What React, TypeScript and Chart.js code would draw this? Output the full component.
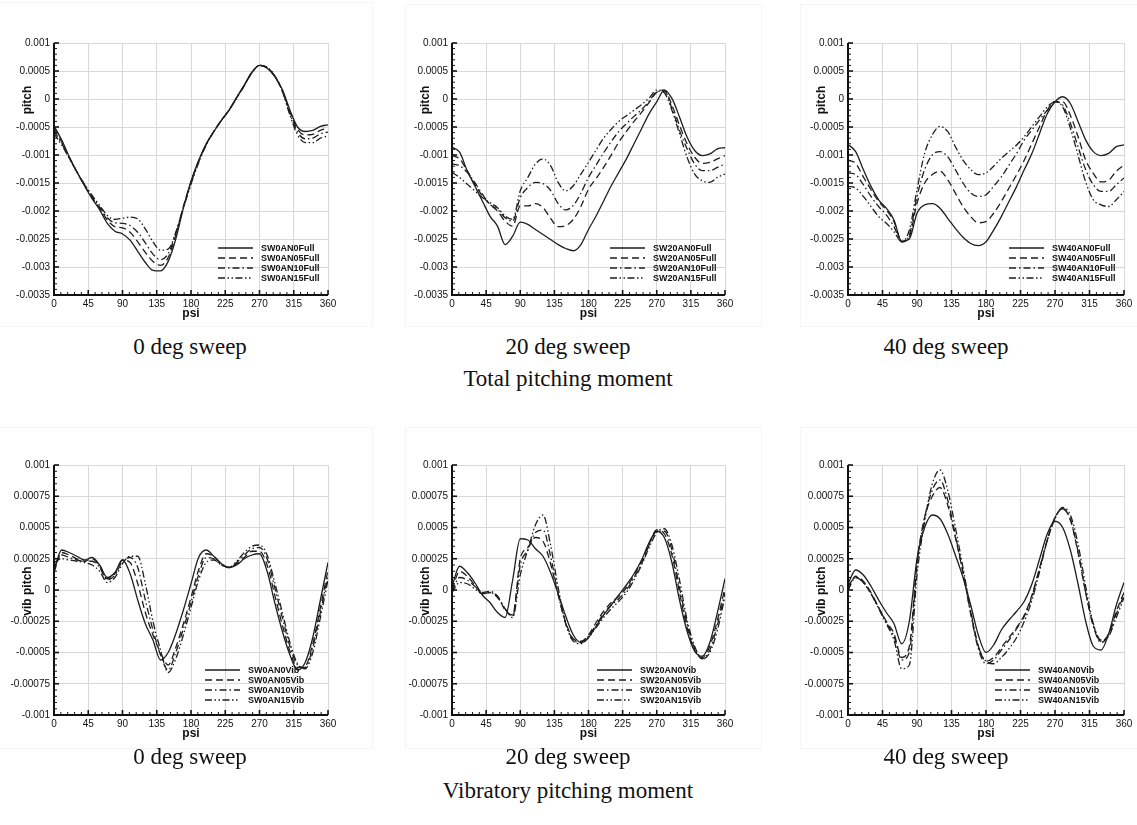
import React, { useEffect, useRef } from "react";
import { Chart, registerables } from "chart.js";

Chart.register(...registerables);

// ---------------- data ----------------
const PSI = [0, 10, 20, 30, 40, 50, 60, 70, 80, 90, 100, 110, 120, 130, 140, 150, 160, 170, 180, 190, 200, 210, 220, 230, 240, 250, 260, 270, 280, 290, 300, 310, 320, 330, 340, 350, 360];
const X_TICKS = [0, 45, 90, 135, 180, 225, 270, 315, 360];
const TOTAL_Y_TICKS = [0.001, 0.0005, 0, -0.0005, -0.001, -0.0015, -0.002, -0.0025, -0.003, -0.0035];
const VIB_Y_TICKS = [0.001, 0.00075, 0.0005, 0.00025, 0, -0.00025, -0.0005, -0.00075, -0.001];

const T0_NAMES = ["SW0AN0Full", "SW0AN05Full", "SW0AN10Full", "SW0AN15Full"];
const T20_NAMES = ["SW20AN0Full", "SW20AN05Full", "SW20AN10Full", "SW20AN15Full"];
const T40_NAMES = ["SW40AN0Full", "SW40AN05Full", "SW40AN10Full", "SW40AN15Full"];
const V0_NAMES = ["SW0AN0Vib", "SW0AN05Vib", "SW0AN10Vib", "SW0AN15Vib"];
const V20_NAMES = ["SW20AN0Vib", "SW20AN05Vib", "SW20AN10Vib", "SW20AN15Vib"];
const V40_NAMES = ["SW40AN0Vib", "SW40AN05Vib", "SW40AN10Vib", "SW40AN15Vib"];

// Total pitching moment, 0 deg sweep
const T0_AN0 = [-0.00048, -0.00073, -0.00103, -0.0013, -0.00155, -0.00178, -0.00198, -0.00222, -0.00236, -0.00241, -0.00252, -0.00272, -0.00292, -0.00306, -0.00307, -0.0029, -0.0025, -0.00195, -0.00147, -0.0011, -0.0008, -0.00058, -0.00038, -0.0002, 0.00003, 0.00025, 0.00048, 0.0006, 0.00055, 0.0004, 0.00017, -0.0002, -0.0005, -0.00058, -0.00056, -0.00049, -0.00046];
const T0_AN05 = [-0.00052, -0.00076, -0.00104, -0.0013, -0.00154, -0.00176, -0.00195, -0.00216, -0.00228, -0.0023, -0.00238, -0.00255, -0.00274, -0.0029, -0.00297, -0.00283, -0.00243, -0.00192, -0.00148, -0.00111, -0.00081, -0.00058, -0.00038, -0.0002, 0.00002, 0.00024, 0.00047, 0.0006, 0.00056, 0.00041, 0.00015, -0.00023, -0.00054, -0.00064, -0.00063, -0.00056, -0.00052];
const T0_AN10 = [-0.00057, -0.00079, -0.00105, -0.0013, -0.00153, -0.00174, -0.00193, -0.00212, -0.00221, -0.00222, -0.00226, -0.00238, -0.00257, -0.00277, -0.00287, -0.00276, -0.0024, -0.00193, -0.0015, -0.00112, -0.00081, -0.00058, -0.00038, -0.0002, 0.00002, 0.00024, 0.00047, 0.0006, 0.00056, 0.00041, 0.00014, -0.00026, -0.00059, -0.00071, -0.0007, -0.00062, -0.00059];
const T0_AN15 = [-0.00062, -0.00082, -0.00106, -0.0013, -0.00152, -0.00172, -0.0019, -0.00208, -0.00215, -0.00213, -0.00211, -0.00214, -0.00232, -0.00255, -0.0027, -0.00268, -0.00238, -0.00195, -0.00152, -0.00114, -0.00082, -0.00058, -0.00038, -0.0002, 0.00002, 0.00024, 0.00047, 0.0006, 0.00057, 0.00042, 0.00014, -0.00029, -0.00064, -0.00078, -0.00078, -0.0007, -0.00066];

// Total pitching moment, 20 deg sweep
const T20_AN0 = [-0.00086, -0.00095, -0.00128, -0.00155, -0.00182, -0.00209, -0.00227, -0.0026, -0.00245, -0.0022, -0.00224, -0.00233, -0.00242, -0.00251, -0.0026, -0.00267, -0.00271, -0.0026, -0.00233, -0.00209, -0.00182, -0.00155, -0.00131, -0.00107, -0.0008, -0.00053, -0.00026, -0.00005, 0.00016, 0.00001, -0.00032, -0.00068, -0.00092, -0.00101, -0.00098, -0.00089, -0.00087];
const T20_AN05 = [-0.00101, -0.00107, -0.00128, -0.00152, -0.00173, -0.00188, -0.002, -0.00218, -0.00227, -0.00191, -0.00191, -0.00187, -0.00194, -0.00213, -0.00228, -0.00226, -0.00215, -0.00192, -0.00161, -0.00142, -0.00122, -0.001, -0.00077, -0.00058, -0.0004, -0.00024, -0.00006, 0.00012, 0.00016, -0.00011, -0.00047, -0.0008, -0.00104, -0.00115, -0.00113, -0.00107, -0.00101];
const T20_AN10 = [-0.00116, -0.00119, -0.00131, -0.00149, -0.0017, -0.00188, -0.00197, -0.00212, -0.00218, -0.00176, -0.00158, -0.00149, -0.00151, -0.00163, -0.00187, -0.00198, -0.0019, -0.00168, -0.0014, -0.00118, -0.00096, -0.00076, -0.00058, -0.00044, -0.00031, -0.00019, -0.00004, 0.00013, 0.00014, -0.00017, -0.00056, -0.00089, -0.00116, -0.00128, -0.00128, -0.00122, -0.00116];
const T20_AN15 = [-0.00131, -0.0014, -0.00152, -0.00164, -0.00176, -0.00185, -0.00194, -0.00209, -0.00215, -0.00164, -0.0014, -0.00116, -0.00107, -0.00119, -0.00149, -0.00164, -0.00155, -0.00134, -0.00113, -0.00091, -0.0007, -0.00054, -0.0004, -0.0003, -0.0002, -0.0001, 0.00002, 0.00016, 0.00011, -0.0002, -0.00062, -0.00104, -0.00134, -0.00146, -0.00149, -0.0014, -0.00134];

// Total pitching moment, 40 deg sweep
const T40_AN0 = [-0.00081, -0.00094, -0.00126, -0.00156, -0.0018, -0.00195, -0.00216, -0.00254, -0.0025, -0.00204, -0.00189, -0.00187, -0.00195, -0.00213, -0.00231, -0.00247, -0.00258, -0.00262, -0.00255, -0.00234, -0.0021, -0.00183, -0.00156, -0.00126, -0.00097, -0.00061, -0.00026, -0.00005, 0.00004, -0.00008, -0.0004, -0.00073, -0.00094, -0.00101, -0.00097, -0.00085, -0.00082];
const T40_AN05 = [-0.00109, -0.00115, -0.00139, -0.00162, -0.00183, -0.00198, -0.00219, -0.00255, -0.00246, -0.00186, -0.0015, -0.00135, -0.00129, -0.00144, -0.00168, -0.00192, -0.0021, -0.00221, -0.00219, -0.00204, -0.00183, -0.00159, -0.00135, -0.00109, -0.00079, -0.00049, -0.0002, -0.00005, -0.00005, -0.00029, -0.00067, -0.00109, -0.00133, -0.00148, -0.00145, -0.00129, -0.00118];
const T40_AN10 = [-0.00132, -0.00135, -0.00153, -0.00174, -0.00192, -0.00207, -0.00228, -0.00255, -0.00243, -0.00174, -0.00126, -0.001, -0.00094, -0.00103, -0.00126, -0.0015, -0.00168, -0.00174, -0.00171, -0.00156, -0.00139, -0.00118, -0.00097, -0.00073, -0.00055, -0.00037, -0.0002, -0.00005, -0.00011, -0.00043, -0.00085, -0.00126, -0.00153, -0.00165, -0.00165, -0.00153, -0.00141];
const T40_AN15 = [-0.00156, -0.00159, -0.00174, -0.00192, -0.0021, -0.00222, -0.00237, -0.00255, -0.00234, -0.00162, -0.00097, -0.00064, -0.00049, -0.00058, -0.00085, -0.00109, -0.00126, -0.00135, -0.00132, -0.0012, -0.00106, -0.00094, -0.00082, -0.00067, -0.00049, -0.00031, -0.00014, -0.00005, -0.00014, -0.00052, -0.001, -0.00148, -0.0018, -0.00189, -0.00192, -0.0018, -0.00165];

// Vibratory pitching moment, 0 deg sweep
const V0_AN0 = [0.00015, 0.00032, 0.0003, 0.00027, 0.00024, 0.00026, 0.0002, 0.0001, 0.00014, 0.00024, 0.00013, -0.00008, -0.00027, -0.0004, -0.00056, -0.0005, -0.00035, -0.00016, 0.00005, 0.00026, 0.00032, 0.00027, 0.00021, 0.00018, 0.0002, 0.00025, 0.00028, 0.00029, 0.00015, -0.0001, -0.00033, -0.00052, -0.00064, -0.00058, -0.00038, -0.00008, 0.00022];
const V0_AN05 = [0.00014, 0.0003, 0.00028, 0.00025, 0.00023, 0.00025, 0.00019, 0.00009, 0.00013, 0.00024, 0.00022, 0.00005, -0.00018, -0.00036, -0.0005, -0.0006, -0.00046, -0.00027, -0.00006, 0.00016, 0.00029, 0.00027, 0.00021, 0.00018, 0.00021, 0.00026, 0.00031, 0.00031, 0.0002, -0.00004, -0.00028, -0.00049, -0.00062, -0.00061, -0.00043, -0.00014, 0.00016];
const V0_AN10 = [0.00018, 0.00028, 0.00026, 0.00024, 0.00023, 0.00023, 0.00018, 0.00008, 0.00012, 0.00023, 0.00026, 0.00018, -0.00008, -0.00032, -0.00052, -0.00064, -0.0005, -0.00031, -0.0001, 0.00012, 0.00026, 0.00025, 0.0002, 0.00018, 0.00022, 0.00028, 0.00033, 0.00034, 0.00025, 0.00002, -0.00022, -0.00045, -0.0006, -0.00062, -0.00046, -0.00018, 0.00012];
const V0_AN15 = [0.00022, 0.00025, 0.00024, 0.00023, 0.00022, 0.0002, 0.00015, 0.00006, 0.0001, 0.00021, 0.00027, 0.00027, 0.00005, -0.00025, -0.00048, -0.00066, -0.00055, -0.00036, -0.00014, 0.00008, 0.00022, 0.00024, 0.0002, 0.00018, 0.00023, 0.0003, 0.00035, 0.00036, 0.00028, 0.00006, -0.00018, -0.00042, -0.00059, -0.00063, -0.0005, -0.00022, 0.00008];

// Vibratory pitching moment, 20 deg sweep
const V20_AN0 = [0.00003, 0.00019, 0.00014, 0.00006, -0.00004, -0.0001, -0.00018, -0.00022, 0.00008, 0.00041, 0.0004, 0.00033, 0.00027, 0.00014, -0.00003, -0.00021, -0.00036, -0.00042, -0.00038, -0.00029, -0.0002, -0.00012, -0.00004, 0.00004, 0.00013, 0.00024, 0.00038, 0.00047, 0.00042, 0.00022, -0.00008, -0.00033, -0.00049, -0.00053, -0.00042, -0.00018, 0.00009];
const V20_AN05 = [0.0, 0.00015, 0.00011, 0.00004, -0.00003, -0.00002, -0.00005, -0.00016, -0.0002, 0.00025, 0.00034, 0.00042, 0.00039, 0.00021, -0.00004, -0.00026, -0.00039, -0.00041, -0.00036, -0.00026, -0.00017, -0.0001, -0.00005, 0.00002, 0.00012, 0.00023, 0.00037, 0.00048, 0.00045, 0.00028, -0.00002, -0.0003, -0.00048, -0.00054, -0.00045, -0.00024, 0.00002];
const V20_AN10 = [-0.00001, 0.0001, 0.00008, 0.00003, -0.00002, -0.00001, -0.00005, -0.00015, -0.00021, 0.0002, 0.00032, 0.00046, 0.00048, 0.00027, -0.00003, -0.00027, -0.0004, -0.00042, -0.00037, -0.00028, -0.00019, -0.00012, -0.00007, 0.0, 0.0001, 0.00021, 0.00036, 0.00047, 0.00047, 0.00032, 0.00002, -0.00027, -0.00047, -0.00055, -0.00048, -0.00028, -0.00002];
const V20_AN15 = [-0.00002, 0.00006, 0.00005, 0.00001, -0.00003, -0.00002, -0.00006, -0.00015, -0.00022, 0.00012, 0.00032, 0.00052, 0.0006, 0.00036, 0.00002, -0.00027, -0.00041, -0.00043, -0.00038, -0.0003, -0.00022, -0.00015, -0.00009, -0.00002, 0.00008, 0.0002, 0.00034, 0.00046, 0.00049, 0.00036, 0.00008, -0.00024, -0.00045, -0.00055, -0.0005, -0.00032, -0.00005];

// Vibratory pitching moment, 40 deg sweep
const V40_AN0 = [0.00005, 0.00016, 0.00012, 0.00003, -0.00008, -0.00018, -0.00027, -0.00043, -0.00025, 0.00025, 0.0005, 0.0006, 0.00057, 0.00045, 0.00028, 0.0001, -0.00012, -0.00036, -0.0005, -0.00044, -0.00032, -0.00024, -0.00017, -0.00009, 0.00005, 0.00025, 0.00045, 0.00055, 0.0005, 0.00032, 0.00005, -0.00025, -0.00045, -0.00048, -0.00035, -0.00012, 0.00006];
const V40_AN05 = [0.0, 0.00011, 0.00007, -0.00002, -0.00014, -0.00025, -0.00035, -0.00054, -0.00045, 0.00022, 0.00058, 0.00075, 0.00082, 0.00068, 0.00042, 0.00014, -0.00018, -0.00045, -0.00057, -0.00054, -0.00046, -0.00038, -0.0003, -0.0002, -0.00004, 0.00018, 0.0004, 0.00058, 0.00065, 0.00056, 0.0003, -0.00002, -0.00028, -0.00041, -0.00035, -0.00017, -0.00002];
const V40_AN10 = [0.0, 0.0001, 0.00006, -0.00003, -0.00014, -0.00026, -0.00037, -0.00056, -0.0005, 0.0002, 0.00058, 0.0008, 0.00088, 0.00072, 0.00044, 0.00014, -0.00019, -0.00047, -0.00059, -0.00056, -0.00048, -0.0004, -0.00031, -0.00021, -0.00005, 0.00017, 0.0004, 0.00058, 0.00065, 0.00057, 0.00031, -0.00002, -0.00029, -0.00042, -0.00036, -0.00019, -0.00004];
const V40_AN15 = [0.00003, 0.0001, 0.00006, -0.00003, -0.00015, -0.00027, -0.0004, -0.00063, -0.0006, 0.00012, 0.00055, 0.00085, 0.00096, 0.0008, 0.0005, 0.00018, -0.00016, -0.00045, -0.00057, -0.00059, -0.00054, -0.00047, -0.00038, -0.00025, -0.00008, 0.00015, 0.0004, 0.00057, 0.00066, 0.0006, 0.00037, 0.00003, -0.00027, -0.0004, -0.00037, -0.00022, -0.00006];

// ---------------- styling / layout ----------------
const LINE_DASHES = [[], [7, 4], [7, 3, 1.5, 3], [7, 2.5, 1.5, 2.5, 1.5, 2.5]];
const LINE_COLOR = "#1e1e1e";
const AY_W = 54;
const AX_H = 32;
const PAD_T = 10;
const PAD_R = 13;
const SANS = '"Liberation Sans", Arial, Helvetica, sans-serif';

const PANELS = [
  { names: T0_NAMES, series: [T0_AN0, T0_AN05, T0_AN10, T0_AN15], yTicks: TOTAL_Y_TICKS, yTitle: "pitch", left: 54, top: 43, w: 274, h: 252, lx: 164, ly: -47 },
  { names: T20_NAMES, series: [T20_AN0, T20_AN05, T20_AN10, T20_AN15], yTicks: TOTAL_Y_TICKS, yTitle: "pitch", left: 452, top: 43, w: 273, h: 252, lx: 158, ly: -47 },
  { names: T40_NAMES, series: [T40_AN0, T40_AN05, T40_AN10, T40_AN15], yTicks: TOTAL_Y_TICKS, yTitle: "pitch", left: 848, top: 43, w: 276, h: 252, lx: 161, ly: -47 },
  { names: V0_NAMES, series: [V0_AN0, V0_AN05, V0_AN10, V0_AN15], yTicks: VIB_Y_TICKS, yTitle: "vib pitch", left: 54, top: 465, w: 274, h: 250, lx: 151, ly: -45 },
  { names: V20_NAMES, series: [V20_AN0, V20_AN05, V20_AN10, V20_AN15], yTicks: VIB_Y_TICKS, yTitle: "vib pitch", left: 452, top: 465, w: 273, h: 250, lx: 145, ly: -45 },
  { names: V40_NAMES, series: [V40_AN0, V40_AN05, V40_AN10, V40_AN15], yTicks: VIB_Y_TICKS, yTitle: "vib pitch", left: 848, top: 465, w: 276, h: 250, lx: 147, ly: -45 },
];

const decorPlugin = {
  id: "decor",
  afterDatasetsDraw(chart: any, _args: any, o: any) {
    const { ctx, chartArea: a } = chart;
    const xs = chart.scales.x;
    const ys = chart.scales.y;
    ctx.save();
    ctx.setLineDash([]);
    ctx.strokeStyle = "#111";
    // x ticks (inside)
    for (let v = 0; v <= 360; v += 9) {
      const major = v % 45 === 0;
      const px = xs.getPixelForValue(v);
      ctx.lineWidth = major ? 1.6 : 1;
      ctx.beginPath();
      ctx.moveTo(px, a.bottom);
      ctx.lineTo(px, a.bottom - (major ? 5 : 3));
      ctx.stroke();
    }
    // y ticks (inside)
    const yt = o.yTicks;
    const step = yt[0] - yt[1];
    for (let i = 0; i < yt.length; i++) {
      const py = ys.getPixelForValue(yt[i]);
      ctx.lineWidth = 1.6;
      ctx.beginPath();
      ctx.moveTo(a.left, py);
      ctx.lineTo(a.left + 5, py);
      ctx.stroke();
      if (i < yt.length - 1) {
        for (let k = 1; k < 5; k++) {
          const pm = ys.getPixelForValue(yt[i] - (step * k) / 5);
          ctx.lineWidth = 1;
          ctx.beginPath();
          ctx.moveTo(a.left, pm);
          ctx.lineTo(a.left + 3, pm);
          ctx.stroke();
        }
      }
    }
    // axis lines
    ctx.lineWidth = 2;
    ctx.beginPath();
    ctx.moveTo(a.left, a.top);
    ctx.lineTo(a.left, a.bottom);
    ctx.lineTo(a.right, a.bottom);
    ctx.stroke();
    // axis titles
    ctx.fillStyle = "#111";
    ctx.font = "bold 12px " + SANS;
    ctx.textAlign = "center";
    ctx.textBaseline = "alphabetic";
    ctx.fillText("psi", (a.left + a.right) / 2, a.bottom + 22);
    ctx.save();
    ctx.translate(a.left - 26, ys.getPixelForValue(0) + 1);
    ctx.rotate(-Math.PI / 2);
    ctx.textBaseline = "middle";
    ctx.fillText(o.yTitle, 0, 0);
    ctx.restore();
    // legend
    chart.data.datasets.forEach((ds: any, i: number) => {
      const y = a.bottom + o.ly + i * 10;
      const x0 = a.left + o.lx;
      ctx.setLineDash(ds.borderDash || []);
      ctx.lineWidth = 1.3;
      ctx.strokeStyle = LINE_COLOR;
      ctx.beginPath();
      ctx.moveTo(x0, y);
      ctx.lineTo(x0 + 35, y);
      ctx.stroke();
      ctx.setLineDash([]);
      ctx.font = "bold 9px " + SANS;
      ctx.textAlign = "left";
      ctx.textBaseline = "middle";
      ctx.fillText(ds.label, x0 + 43, y + 0.5);
    });
    ctx.restore();
  },
};

function Panel({ p }: { p: any }) {
  const ref = useRef<HTMLCanvasElement | null>(null);
  const cw = AY_W + p.w + PAD_R;
  const chH = PAD_T + p.h + AX_H;
  useEffect(() => {
    if (!ref.current) return;
    const datasets = p.series.map((vals: number[], i: number) => ({
      label: p.names[i],
      data: PSI.map((x, j) => ({ x, y: vals[j] })),
      borderColor: LINE_COLOR,
      borderWidth: 1.3,
      borderDash: LINE_DASHES[i],
      pointRadius: 0,
      cubicInterpolationMode: "monotone",
      fill: false,
    }));
    const yTicks = p.yTicks;
    const gridCfg = { color: "#d8d8d8", lineWidth: 1, drawTicks: false };
    const tickFont = { family: SANS, size: 10 };
    const chart = new Chart(ref.current, {
      type: "line",
      data: { datasets },
      plugins: [decorPlugin],
      options: {
        responsive: false,
        animation: false,
        devicePixelRatio: 1,
        layout: { padding: { top: PAD_T, right: PAD_R, left: 0, bottom: 0 } },
        plugins: {
          legend: { display: false },
          tooltip: { enabled: false },
          decor: { yTicks, yTitle: p.yTitle, lx: p.lx, ly: p.ly },
        },
        scales: {
          x: {
            type: "linear",
            min: 0,
            max: 360,
            afterBuildTicks: (s: any) => {
              s.ticks = X_TICKS.map((v) => ({ value: v }));
            },
            afterFit: (s: any) => {
              s.height = AX_H;
            },
            grid: gridCfg,
            border: { display: false },
            ticks: { font: tickFont, color: "#111", padding: 3, maxRotation: 0, autoSkip: false, callback: (v: any) => String(v) },
          },
          y: {
            type: "linear",
            min: yTicks[yTicks.length - 1],
            max: yTicks[0],
            afterBuildTicks: (s: any) => {
              s.ticks = yTicks.map((v: number) => ({ value: v }));
            },
            afterFit: (s: any) => {
              s.width = AY_W;
            },
            grid: gridCfg,
            border: { display: false },
            ticks: { font: tickFont, color: "#111", padding: 4, autoSkip: false, callback: (v: any) => String(v) },
          },
        },
      } as any,
    } as any);
    return () => chart.destroy();
  }, []);
  return (
    <canvas
      ref={ref}
      width={cw}
      height={chH}
      style={{ position: "absolute", left: p.left - AY_W, top: p.top - PAD_T, width: cw, height: chH }}
    />
  );
}

const CAP_FONT = 23;
function Caption({ text, cx, baseline }: { text: string; cx: number; baseline: number }) {
  return (
    <div
      style={{
        position: "absolute",
        left: cx - 300,
        width: 600,
        top: baseline - 19,
        fontFamily: '"Liberation Serif", "Times New Roman", serif',
        fontSize: CAP_FONT,
        lineHeight: CAP_FONT + "px",
        textAlign: "center",
        color: "#111",
        whiteSpace: "nowrap",
      }}
    >
      {text}
    </div>
  );
}

const FRAMES = [
  { l: -2, t: 2, r: 373, b: 327 },
  { l: 405, t: 4, r: 762, b: 327 },
  { l: 800, t: 4, r: 1140, b: 327 },
  { l: -2, t: 427, r: 373, b: 749 },
  { l: 405, t: 427, r: 762, b: 749 },
  { l: 800, t: 427, r: 1140, b: 749 },
];

export default function App() {
  return (
    <div style={{ position: "absolute", left: 0, top: 0, width: 1137, height: 825, background: "#fff", overflow: "hidden" }}>
      {FRAMES.map((f, i) => (
        <div
          key={"f" + i}
          style={{ position: "absolute", left: f.l, top: f.t, width: f.r - f.l, height: f.b - f.t, border: "1px solid #f5f5f5", boxSizing: "border-box" }}
        />
      ))}
      {PANELS.map((p, i) => (
        <Panel key={i} p={p} />
      ))}
      <Caption text="0 deg sweep" cx={190} baseline={354} />
      <Caption text="20 deg sweep" cx={568} baseline={354} />
      <Caption text="40 deg sweep" cx={946} baseline={354} />
      <Caption text="Total pitching moment" cx={568} baseline={386} />
      <Caption text="0 deg sweep" cx={190} baseline={764} />
      <Caption text="20 deg sweep" cx={568} baseline={764} />
      <Caption text="40 deg sweep" cx={946} baseline={764} />
      <Caption text="Vibratory pitching moment" cx={568} baseline={798} />
    </div>
  );
}
